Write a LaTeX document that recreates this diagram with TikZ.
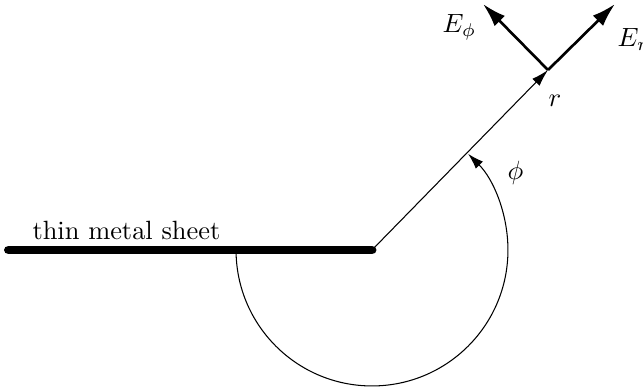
\documentclass[tikz,border=0pt]{standalone}
\usetikzlibrary{arrows.meta}
\begin{document}
\begin{tikzpicture}[x=0.3788pt,y=-0.3788pt,
  sheet/.style={line width=3.4pt,line cap=round},
  radial/.style={line width=0.4pt,-{Latex[length=6.5pt,width=3.8pt]}},
  field/.style={line width=1pt,-{Latex[length=9pt,width=5.5pt]}},
  anglearc/.style={line width=0.4pt,-{Latex[length=6pt,width=3.8pt]}},
  lbl/.style={anchor=base west,inner sep=0pt}]
\useasboundingbox (0,0) rectangle (643,389);
\coordinate (L) at (8.5,250);
\coordinate (O) at (372,250);
\coordinate (P) at (548,70);
\coordinate (Er) at (615,4);
\coordinate (Ephi) at (483,4);
\draw[sheet] (L) -- (O);
\draw[radial] (O) -- (P);
\draw[field] (P) -- (Er);
\draw[field] (P) -- (Ephi);
\draw[anglearc] ([shift={(180:51.5pt)}]O) arc[start angle=180,end angle=405,radius=51.5pt];
\node[lbl] (sheetlbl) at (32,240) {thin metal sheet};
\node[lbl] (ephilbl) at (442,33) {$E_\phi$};
\node[lbl] (erlbl) at (617,47) {$E_r$};
\node[lbl] (rlbl) at (548,107) {$r$};
\node[lbl] (philbl) at (507,180) {$\phi$};
\end{tikzpicture}
\end{document}
